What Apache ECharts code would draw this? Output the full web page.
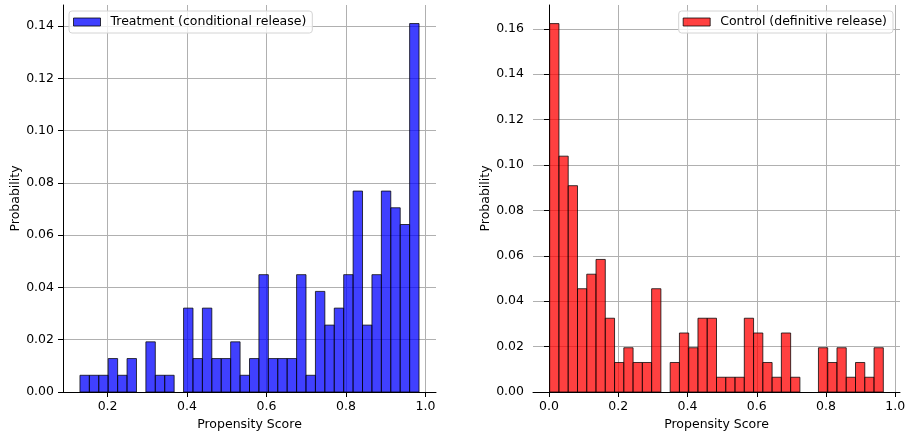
<!DOCTYPE html>
<html>
<head>
<meta charset="utf-8">
<script src="https://cdn.jsdelivr.net/npm/echarts@6/dist/echarts.min.js"></script>
<style>
  html, body { margin: 0; padding: 0; background: #fff; }
  #chart { width: 905px; height: 434px; }
</style>
</head>
<body>
<div id="chart"></div>
<script>
// histogram bins (36 each), probability per bin
const treatLo = 0.1305, treatHi = 0.984;
const treatProb = [0.0064, 0.0064, 0.0064, 0.0128, 0.0064, 0.0128, 0, 0.0192, 0.0064, 0.0064, 0, 0.0321,
  0.0128, 0.0321, 0.0128, 0.0128, 0.0192, 0.0064, 0.0128, 0.0449, 0.0128, 0.0128, 0.0128, 0.0449,
  0.0064, 0.0385, 0.0256, 0.0321, 0.0449, 0.0769, 0.0256, 0.0449, 0.0769, 0.0705, 0.0641, 0.1410];

const ctrlLo = 0.002, ctrlHi = 0.9655;
const ctrlProb = [0.1623, 0.1039, 0.0909, 0.0455, 0.0519, 0.0584, 0.0325, 0.0130, 0.0195, 0.0130, 0.0130, 0.0455,
  0, 0.0130, 0.0260, 0.0195, 0.0325, 0.0325, 0.0065, 0.0065, 0.0065, 0.0325, 0.0260, 0.0130,
  0.0065, 0.0260, 0.0065, 0, 0, 0.0195, 0.0130, 0.0195, 0.0065, 0.0130, 0.0065, 0.0195];

const treatXTicks = [0.2, 0.4, 0.6, 0.8, 1.0];
const ctrlXTicks = [0.0, 0.2, 0.4, 0.6, 0.8, 1.0];
const treatYTicks = [0, 0.02, 0.04, 0.06, 0.08, 0.10, 0.12, 0.14];
const ctrlYTicks = [0, 0.02, 0.04, 0.06, 0.08, 0.10, 0.12, 0.14, 0.16];

const treatName = 'Treatment (conditional release)';
const ctrlName = 'Control (definitive release)';

function binData(lo, hi, probs) {
  const w = (hi - lo) / probs.length;
  return probs.map((p, i) => [lo + i * w, lo + (i + 1) * w, p]);
}

const FONT = 'DejaVu Sans';
const txt = { fontFamily: FONT, fontSize: 12.5, color: '#000' };

function renderBar(params, api) {
  const h = api.value(2);
  if (!h) return null;
  const p0 = api.coord([api.value(0), 0]);
  const p1 = api.coord([api.value(1), h]);
  return {
    type: 'rect',
    shape: { x: p0[0], y: p1[1], width: p1[0] - p0[0], height: p0[1] - p1[1] },
    style: { fill: api.visual('color'), stroke: 'rgba(0,0,0,0.75)', lineWidth: 1 }
  };
}

function xAxisFor(grid, lo, hi, ticks) {
  const pad = (hi - lo) * 0.05;
  return {
    type: 'value', gridIndex: grid, min: lo - pad, max: hi + pad,
    name: 'Propensity Score', nameLocation: 'middle', nameGap: 24,
    nameTextStyle: txt,
    axisLine: { show: true, lineStyle: { color: '#000', width: 1 } },
    axisTick: { show: true, length: 5, lineStyle: { color: '#000' }, customValues: ticks },
    axisLabel: Object.assign({ margin: 8, customValues: ticks, formatter: v => v.toFixed(1) }, txt),
    splitLine: { show: true, lineStyle: { color: '#b0b0b0', width: 1 } }
  };
}

function yAxisFor(grid, max, ticks) {
  return {
    type: 'value', gridIndex: grid, min: 0, max: max,
    name: 'Probability', nameLocation: 'middle', nameGap: 41,
    nameTextStyle: txt,
    axisLine: { show: true, lineStyle: { color: '#000', width: 1 } },
    axisTick: { show: true, length: 5, lineStyle: { color: '#000' }, customValues: ticks },
    axisLabel: Object.assign({ margin: 9, customValues: ticks, formatter: v => v.toFixed(2) }, txt),
    splitLine: { show: true, lineStyle: { color: '#b0b0b0', width: 1 } }
  };
}

function legendFor(name, color, pos) {
  return Object.assign({
    data: [name],
    orient: 'horizontal',
    top: 11,
    padding: [4, 6, 4, 4],
    itemWidth: 27, itemHeight: 8,
    icon: 'rect',
    itemStyle: { color: color, borderColor: 'rgba(0,0,0,0.75)', borderWidth: 1 },
    textStyle: Object.assign({ padding: [0, 0, 0, 5], lineHeight: 14 }, txt),
    backgroundColor: 'rgba(255,255,255,0.8)',
    borderColor: '#d4d4d4', borderWidth: 1, borderRadius: 3,
    selectedMode: false
  }, pos);
}

const chart = echarts.init(document.getElementById('chart'), null, { renderer: 'canvas' });
chart.setOption({
  animation: false,
  textStyle: { fontFamily: FONT },
  grid: [
    { left: 63, right: 469, top: 5, bottom: 42, containLabel: false, outerBoundsMode: 'none' },
    { left: 533, right: 5, top: 5, bottom: 42, containLabel: false, outerBoundsMode: 'none' }
  ],
  xAxis: [
    xAxisFor(0, treatLo, treatHi, treatXTicks),
    xAxisFor(1, ctrlLo, ctrlHi, ctrlXTicks)
  ],
  yAxis: [
    yAxisFor(0, 0.1481, treatYTicks),
    yAxisFor(1, 0.1705, ctrlYTicks)
  ],
  legend: [
    legendFor(treatName, 'rgba(0,0,255,0.75)', { left: 69 }),
    legendFor(ctrlName, 'rgba(255,0,0,0.75)', { right: 12 })
  ],
  series: [
    {
      name: treatName, type: 'custom', xAxisIndex: 0, yAxisIndex: 0,
      itemStyle: { color: 'rgba(0,0,255,0.75)' },
      renderItem: renderBar, encode: { x: [0, 1], y: 2 },
      data: binData(treatLo, treatHi, treatProb)
    },
    {
      name: ctrlName, type: 'custom', xAxisIndex: 1, yAxisIndex: 1,
      itemStyle: { color: 'rgba(255,0,0,0.75)' },
      renderItem: renderBar, encode: { x: [0, 1], y: 2 },
      data: binData(ctrlLo, ctrlHi, ctrlProb)
    }
  ]
});
</script>
</body>
</html>
